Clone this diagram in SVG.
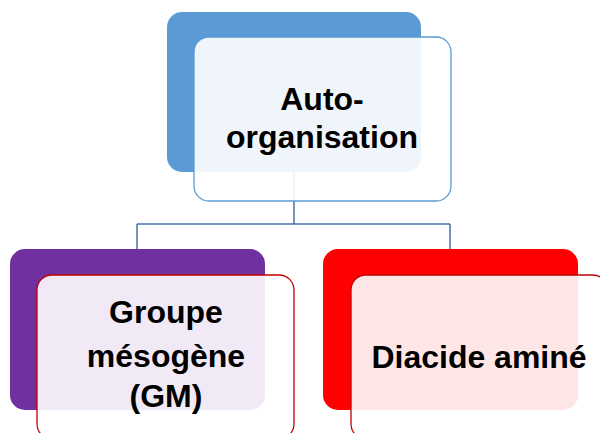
<svg xmlns="http://www.w3.org/2000/svg" width="600" height="433" viewBox="0 0 600 433">
<style>
.front{fill:#ffffff;fill-opacity:0.9;stroke-width:1.3}
.lbl{font-family:"Liberation Sans",Arial,sans-serif;font-weight:bold;font-size:32px;fill:#000;text-anchor:middle}
.conn{fill:none;stroke:#4472A8;stroke-width:1.5}
</style>
<rect width="600" height="433" fill="#ffffff"/>
<g id="connectors">
<path class="conn" d="M294,172 V224 M137,224 H450 M137,224 V249 M450,224 V249"/>
</g>
<g id="node-auto">
<rect x="167" y="12" width="254" height="160" rx="15" fill="#5B9BD5"/>
<rect class="front" x="194" y="37" width="257" height="164" rx="15" stroke="#5B9BD5"/>
<text class="lbl" x="322" y="110">Auto-</text>
<text class="lbl" x="322" y="148">organisation</text>
</g>
<g id="node-gm">
<rect x="10" y="249" width="255" height="161" rx="15" fill="#7030A0"/>
<rect class="front" x="37" y="275" width="257" height="164" rx="15" stroke="#C00000"/>
<text class="lbl" x="166" y="323">Groupe</text>
<text class="lbl" x="166" y="367">mésogène</text>
<text class="lbl" x="166" y="407">(GM)</text>
</g>
<g id="node-diacide">
<rect x="323" y="249" width="255" height="161" rx="15" fill="#FF0000"/>
<rect class="front" x="351" y="275" width="257" height="164" rx="15" stroke="#C00000"/>
<text class="lbl" x="479" y="368">Diacide aminé</text>
</g>
</svg>
